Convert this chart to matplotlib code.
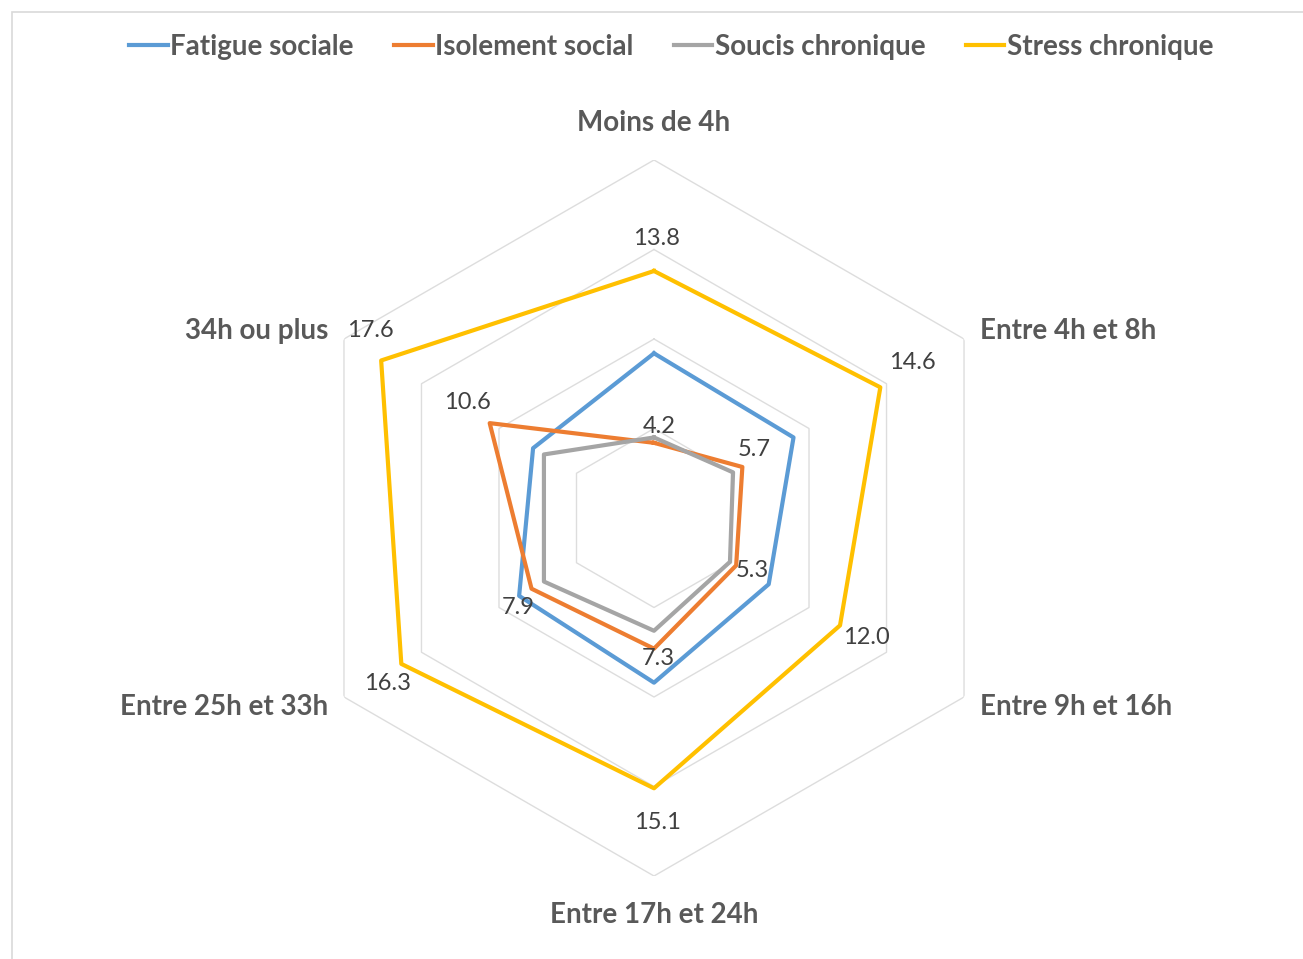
import matplotlib.pyplot as plt
import numpy as np
from matplotlib.lines import Line2D
from matplotlib.patches import Rectangle

categories = ["Moins de 4h", "Entre 4h et 8h", "Entre 9h et 16h",
              "Entre 17h et 24h", "Entre 25h et 33h", "34h ou plus"]
fatigue_sociale = [9.2, 9.0, 7.4, 9.2, 8.7, 7.8]
isolement_social = [4.2, 5.7, 5.3, 7.3, 7.9, 10.6]
soucis_chronique = [4.5, 5.1, 4.9, 6.3, 7.1, 7.1]
stress_chronique = [13.8, 14.6, 12.0, 15.1, 16.3, 17.6]
series_names = ["Fatigue sociale", "Isolement social", "Soucis chronique", "Stress chronique"]
grid_levels = [5, 10, 15, 20]

colors = ["#5B9BD5", "#ED7D31", "#A5A5A5", "#FFC000"]
text_color = "#595959"
font = "Lato"

W, H = 1303, 959
fig = plt.figure(figsize=(W / 100, H / 100), dpi=100)

# chart frame
fig.patches.append(Rectangle((12 / W, -0.01), 1.0, 1 - 12 / H + 0.01, transform=fig.transFigure,
                             fill=False, edgecolor="#D9D9D9", linewidth=1.2))

cx, cy, rad = 654, 518, 358
ax = fig.add_axes([(cx - rad) / W, (H - cy - rad) / H, 2 * rad / W, 2 * rad / H], projection="polar")
ax.set_theta_zero_location("N")
ax.set_theta_direction(-1)
ax.set_ylim(0, 20)
ax.grid(False)
ax.spines["polar"].set_visible(False)
ax.set_xticks([])
ax.set_yticks([])
ax.patch.set_alpha(0)

n = len(categories)
theta = np.linspace(0, 2 * np.pi, n, endpoint=False)
theta_c = np.append(theta, theta[0])

# hexagonal grid
for lvl in grid_levels:
    ax.plot(theta_c, [lvl] * (n + 1), color="#DDDDDD", linewidth=1.0, zorder=1)

all_series = [fatigue_sociale, isolement_social, soucis_chronique, stress_chronique]
for vals, col, name in zip(all_series, colors, series_names):
    ax.plot(theta_c, vals + vals[:1], color=col, linewidth=3.0, label=name, zorder=3)

# data labels (offsets in pixels)
stress_offsets = [(2, 32), (32, 25), (26, -12), (3, -34), (-14, -20), (-11, 30)]
iso_offsets = [(5, 16), (12, 17), (16, -5), (4, -10), (-13, -19), (-22, 21)]
for vals, offs in [(stress_chronique, stress_offsets), (isolement_social, iso_offsets)]:
    for t, v, (dx, dy) in zip(theta, vals, offs):
        ax.annotate(f"{v:.1f}", xy=(t, v), xytext=(dx, dy), textcoords="offset pixels",
                    ha="center", va="center", fontsize=17, color="#404040",
                    family=font, zorder=5)

# category labels
cat_pos = [(654, 123, "center"), (980, 331, "left"), (980, 707, "left"),
           (654, 915, "center"), (328, 707, "right"), (328, 331, "right")]
for lab, (px, py, ha) in zip(categories, cat_pos):
    fig.text(px / W, 1 - py / H, lab, ha=ha, va="center", fontsize=20,
             fontweight="bold", color=text_color, family=font)

handles = [Line2D([0], [0], color=c, linewidth=3) for c in colors]
leg = fig.legend(handles, series_names, loc="center", bbox_to_anchor=(671 / W, 1 - 47 / H),
                 ncol=4, frameon=False, handlelength=1.4, handletextpad=0.08,
                 columnspacing=1.45, prop={"family": font, "weight": "bold", "size": 20})
for t in leg.get_texts():
    t.set_color(text_color)

fig.savefig("out.png", dpi=100)
